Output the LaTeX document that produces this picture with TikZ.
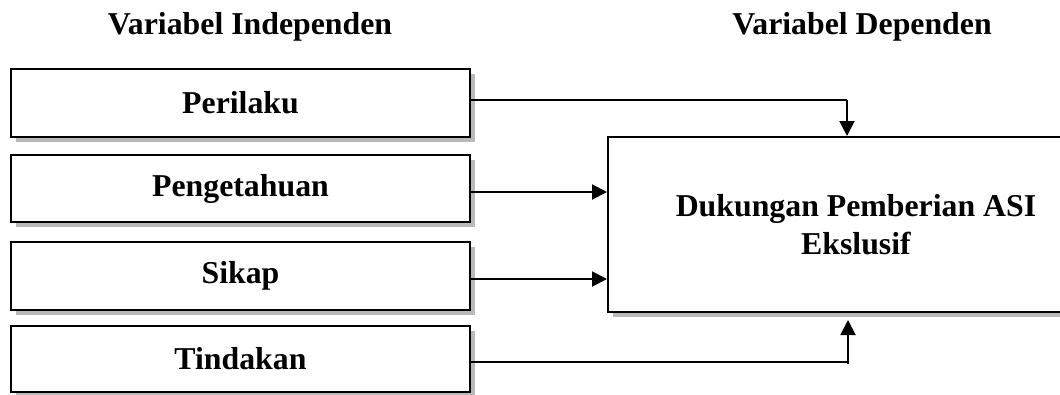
\documentclass[tikz,border=0pt]{standalone}
\usepackage{fontspec}
\setmainfont{Liberation Serif}
\usetikzlibrary{shadows,arrows.meta}
\definecolor{shadowgray}{RGB}{185,185,185}
\tikzset{
  txt/.style={font=\fontsize{31.8}{38}\selectfont\bfseries},
  varbox/.style={draw, line width=2pt, fill=white, rectangle, inner sep=0pt,
    txt, align=center,
    drop shadow={shadow xshift=4.5pt, shadow yshift=-4.5pt, fill=shadowgray, opacity=1}},
  link/.style={line width=1.9pt},
  arr/.style={link, -{Triangle[length=15pt,width=15pt]}}
}
\begin{document}
\begin{tikzpicture}[x=1pt, y=-1pt]
  \useasboundingbox (0,0) rectangle (1060,394);

  % column headings
  \node[txt, anchor=base] (hInd) at (250,34) {Variabel Independen};
  \node[txt, anchor=base] (hDep) at (862,34) {Variabel Dependen};

  % independent variables
  \node[varbox, minimum width=459pt, minimum height=68pt] (P)  at (240.5,103)   {Perilaku};
  \node[varbox, minimum width=459pt, minimum height=67pt] (Pg) at (240.5,188.5) {Pengetahuan};
  \node[varbox, minimum width=459pt, minimum height=68pt] (S)  at (240.5,276)   {Sikap};
  \node[varbox, minimum width=459pt, minimum height=66pt] (T)  at (240.5,359)   {Tindakan};

  % dependent variable
  \node[varbox, minimum width=496pt, minimum height=175pt] (D) at (856,224.5)
    {Dukungan Pemberian ASI\\Ekslusif};

  % connectors
  \coordinate (cTop) at (847,100);
  \draw[link] ([yshift=3pt]P.east) -- (cTop);
  \draw[arr] (cTop) -- (cTop |- D.north);

  \draw[arr] ([yshift=-3.5pt]Pg.east) -- ([yshift=-3.5pt]Pg.east -| D.west);
  \draw[arr] ([yshift=-3pt]S.east) -- ([yshift=-3pt]S.east -| D.west);

  \coordinate (cBot) at (848,362);
  \coordinate (cBotTail) at (848,364);
  \coordinate (cBotTip) at (848,320);
  \draw[link] ([yshift=-3pt]T.east) -- (cBot);
  \draw[arr] (cBotTail) -- (cBotTip);
\end{tikzpicture}
\end{document}
